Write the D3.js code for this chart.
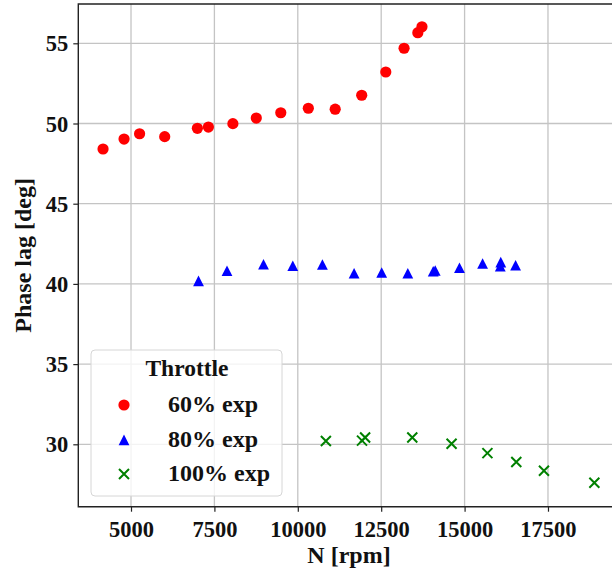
<!DOCTYPE html>
<html>
<head>
<meta charset="utf-8">
<script src="https://cdn.jsdelivr.net/npm/d3@7"></script>
<style>
  html, body { margin: 0; padding: 0; background: #fff; overflow: hidden; }
  svg { display: block; font-family: "Liberation Serif", "Times New Roman", serif; font-weight: bold; }
</style>
</head>
<body>
<svg id="chart" width="612" height="571"></svg>
<script>
// Phase lag measurements vs. rotor speed for three throttle settings
const n60   = [4162, 4792, 5257, 6010, 6990, 7320, 8054, 8756, 9490, 10316, 11121, 11916, 12638, 13186, 13598, 13722];
const lag60 = [48.41, 49.03, 49.36, 49.18, 49.70, 49.78, 49.99, 50.34, 50.67, 50.95, 50.89, 51.76, 53.21, 54.69, 55.66, 56.03];

const n80   = [7024, 7878, 8972, 9850, 10738, 11688, 12515, 13298, 14060, 14120, 14847, 15540, 16085, 16070, 16529];
const lag80 = [40.18, 40.81, 41.21, 41.12, 41.20, 40.66, 40.70, 40.66, 40.78, 40.83, 41.00, 41.26, 41.35, 41.09, 41.15];

const n100   = [10842, 11925, 12018, 13432, 14610, 15684, 16550, 17380, 18890];
const lag100 = [30.21, 30.23, 30.42, 30.42, 30.03, 29.45, 28.90, 28.35, 27.60];

const seriesNames = ["60% exp", "80% exp", "100% exp"];
const legendTitle = "Throttle";
const xTicks = [5000, 7500, 10000, 12500, 15000, 17500];
const yTicks = [30, 35, 40, 45, 50, 55];
const xLabel = "N [rpm]";
const yLabel = "Phase lag [deg]";

const svg = d3.select("#chart");
const plot = { left: 78.3, right: 619.7, top: 4, bottom: 506.7 };

const x = d3.scaleLinear().domain([3420, 19650]).range([plot.left, plot.right]);
const y = d3.scaleLinear().domain([26.11, 57.45]).range([plot.bottom, plot.top]);

// grid
const grid = svg.append("g");
grid.selectAll("line.gx").data(xTicks).join("line")
  .attr("x1", d => x(d)).attr("x2", d => x(d))
  .attr("y1", plot.top).attr("y2", plot.bottom)
  .attr("stroke", "#c4c4c4").attr("stroke-width", 1.3);
grid.selectAll("line.gy").data(yTicks).join("line")
  .attr("x1", plot.left).attr("x2", plot.right)
  .attr("y1", d => y(d)).attr("y2", d => y(d))
  .attr("stroke", "#c4c4c4").attr("stroke-width", 1.3);

// axes
const xAxis = svg.append("g").attr("transform", `translate(0,${plot.bottom})`)
  .call(d3.axisBottom(x).tickValues(xTicks).tickFormat(d3.format("d")).tickSize(5).tickPadding(4));
const yAxis = svg.append("g").attr("transform", `translate(${plot.left},0)`)
  .call(d3.axisLeft(y).tickValues(yTicks).tickFormat(d3.format("d")).tickSize(5).tickPadding(5));
[xAxis, yAxis].forEach(a => {
  a.select(".domain").remove();
  a.selectAll(".tick line").attr("stroke", "#222").attr("stroke-width", 1.2);
  a.selectAll(".tick text").attr("fill", "#111")
    .style("font-family", '"Liberation Serif", serif').style("font-weight", "bold").style("font-size", "22.5px");
});
xAxis.selectAll(".tick text").attr("dy", "0.95em");
yAxis.selectAll(".tick text").attr("dy", "0.34em");

// spines (left, bottom, top; the right edge lies outside the view)
svg.append("path")
  .attr("d", `M${plot.right},${plot.top}H${plot.left}V${plot.bottom}H${plot.right}`)
  .attr("fill", "none").attr("stroke", "#222").attr("stroke-width", 1.4);

// axis labels
svg.append("text").attr("x", (plot.left + plot.right) / 2).attr("y", 563)
  .attr("text-anchor", "middle").attr("font-size", 24).attr("fill", "#111").text(xLabel);
svg.append("text").attr("transform", `translate(31,${(plot.top + plot.bottom) / 2}) rotate(-90)`)
  .attr("text-anchor", "middle").attr("font-size", 24).attr("fill", "#111").text(yLabel);

// marker shapes: triangle as wide as it is tall, centred on its bounding box
const triHalf = 5.4;
const triangleType = {
  draw(ctx) {
    ctx.moveTo(0, -triHalf);
    ctx.lineTo(triHalf, triHalf * 0.95);
    ctx.lineTo(-triHalf, triHalf * 0.95);
    ctx.closePath();
  }
};
const triangle = d3.symbol().type(triangleType);
const xr = 5;
const crossPath = (cx, cy) => `M${cx - xr},${cy - xr}L${cx + xr},${cy + xr}M${cx - xr},${cy + xr}L${cx + xr},${cy - xr}`;

// markers
const marks = svg.append("g");
marks.selectAll("circle.s60").data(n60.map((n, i) => [n, lag60[i]])).join("circle")
  .attr("cx", d => x(d[0])).attr("cy", d => y(d[1])).attr("r", 5.6).attr("fill", "#ff0000");
marks.selectAll("path.s80").data(n80.map((n, i) => [n, lag80[i]])).join("path")
  .attr("d", triangle).attr("transform", d => `translate(${x(d[0])},${y(d[1])})`).attr("fill", "#0000ff");
marks.selectAll("path.s100").data(n100.map((n, i) => [n, lag100[i]])).join("path")
  .attr("d", d => crossPath(x(d[0]), y(d[1])))
  .attr("stroke", "#008000").attr("stroke-width", 2).attr("fill", "none");

// legend
const lg = svg.append("g");
lg.append("rect").attr("x", 91).attr("y", 350).attr("width", 191).attr("height", 146).attr("rx", 4)
  .attr("fill", "#fff").attr("fill-opacity", 0.8).attr("stroke", "#d6d6d6").attr("stroke-width", 1);
lg.append("text").attr("x", 187).attr("y", 376).attr("text-anchor", "middle")
  .attr("font-size", 23.5).attr("fill", "#111").text(legendTitle);
const rowY = [405, 440, 474];
const mx = 124;
lg.append("circle").attr("cx", mx).attr("cy", rowY[0]).attr("r", 5.6).attr("fill", "#ff0000");
lg.append("path").attr("d", triangle).attr("transform", `translate(${mx},${rowY[1]})`).attr("fill", "#0000ff");
lg.append("path").attr("d", crossPath(mx, rowY[2]))
  .attr("stroke", "#008000").attr("stroke-width", 2).attr("fill", "none");
lg.selectAll("text.item").data(seriesNames).join("text")
  .attr("x", 168).attr("y", (d, i) => rowY[i] + 6.5)
  .attr("font-size", 24).attr("fill", "#111").text(d => d);
</script>
</body>
</html>
